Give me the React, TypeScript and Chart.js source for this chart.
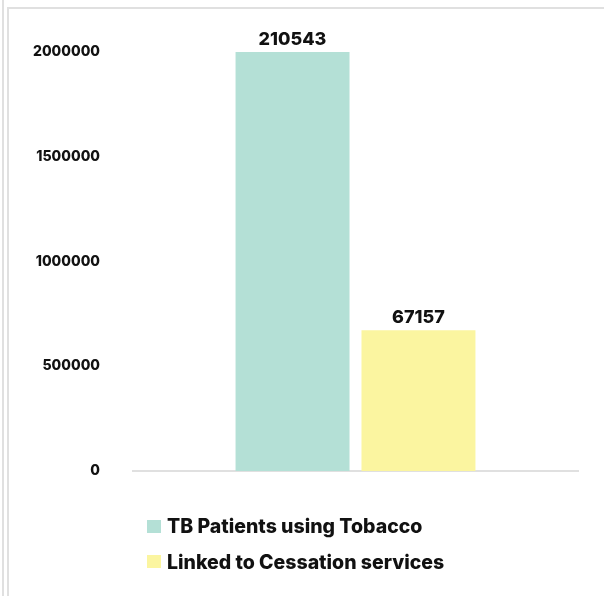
import { useEffect, useRef } from 'react';
import { Chart, registerables } from 'chart.js';

Chart.register(...registerables);

// One group of bars, one bar per series
const categories = [''];
const seriesNames = ['TB Patients using Tobacco', 'Linked to Cessation services'];
const patientCounts = [210543, 67157];
const seriesColors = ['#b4e0d6', '#fbf5a0'];
const yTicks = [0, 500000, 1000000, 1500000, 2000000];
// Bars are plotted on the axis at ten times the stated count
const AXIS_MULTIPLIER = 10;

const FONT_FAMILY = 'Inter, "Open Sans", sans-serif';
const TEXT_COLOR = '#111111';
const LINE_COLOR = '#e0e0e0';

const valueLabels = {
  id: 'valueLabels',
  afterDatasetsDraw(chart: any) {
    const { ctx, chartArea } = chart;
    ctx.save();
    ctx.font = `800 18px ${FONT_FAMILY}`;
    ctx.fillStyle = TEXT_COLOR;
    ctx.textAlign = 'center';
    ctx.textBaseline = 'alphabetic';
    chart.data.datasets.forEach((_ds: any, i: number) => {
      chart.getDatasetMeta(i).data.forEach((bar: any) => {
        const top = Math.max(bar.y, chartArea.top);
        ctx.fillText(String(patientCounts[i]), bar.x, top - 7);
      });
    });
    ctx.restore();
  },
};

function BarChart() {
  const canvasRef = useRef<HTMLCanvasElement | null>(null);

  useEffect(() => {
    if (!canvasRef.current) return;
    const chart = new Chart(canvasRef.current, {
      type: 'bar',
      data: {
        labels: categories,
        datasets: seriesNames.map((name, i) => ({
          label: name,
          data: [patientCounts[i] * AXIS_MULTIPLIER],
          backgroundColor: seriesColors[i],
          borderWidth: 0,
          categoryPercentage: 0.566,
          barPercentage: 0.905,
        })),
      },
      options: {
        responsive: false,
        animation: false,
        devicePixelRatio: 1,
        layout: { padding: { left: 0, top: 52, right: 26, bottom: 125 } },
        plugins: {
          legend: { display: false },
          tooltip: { enabled: false },
        },
        scales: {
          x: {
            grid: { display: false },
            ticks: { display: false },
            border: { display: true, color: LINE_COLOR, width: 2 },
            afterFit(scale: any) {
              scale.height = 0;
            },
          },
          y: {
            min: 0,
            max: yTicks[yTicks.length - 1],
            grid: { display: false },
            border: { display: false },
            afterFit(scale: any) {
              scale.width = 133;
            },
            afterBuildTicks(scale: any) {
              scale.ticks = yTicks.map((v) => ({ value: v }));
            },
            ticks: {
              padding: 25,
              color: TEXT_COLOR,
              font: { family: FONT_FAMILY, size: 14, weight: 800 },
              callback: (v: any) => String(v),
            },
          },
        },
      },
      plugins: [valueLabels],
    });
    return () => chart.destroy();
  }, []);

  return (
    <canvas
      ref={canvasRef}
      width={604}
      height={596}
      style={{ position: 'absolute', left: 0, top: 0, width: 604, height: 596, display: 'block' }}
    />
  );
}

export default function App() {
  return (
    <div style={{ position: 'fixed', inset: 0, background: '#ffffff', overflow: 'hidden' }}>
      <div style={{ position: 'absolute', left: 2, top: 0, width: 2, height: '100%', background: LINE_COLOR }} />
      <div
        style={{
          position: 'absolute',
          left: 7,
          top: 7,
          width: 800,
          height: 800,
          border: `2px solid ${LINE_COLOR}`,
          boxSizing: 'border-box',
        }}
      />
      <BarChart />
      {seriesNames.map((name, i) => (
        <div
          key={name}
          style={{
            position: 'absolute',
            left: 147,
            top: 516 + i * 35.5,
            height: 20,
            display: 'flex',
            alignItems: 'center',
            font: `800 19.5px ${FONT_FAMILY}`,
            lineHeight: '20px',
            color: TEXT_COLOR,
            whiteSpace: 'nowrap',
          }}
        >
          <span style={{ width: 14, height: 13, background: seriesColors[i], marginRight: 6, flex: 'none' }} />
          <span>{name}</span>
        </div>
      ))}
    </div>
  );
}
